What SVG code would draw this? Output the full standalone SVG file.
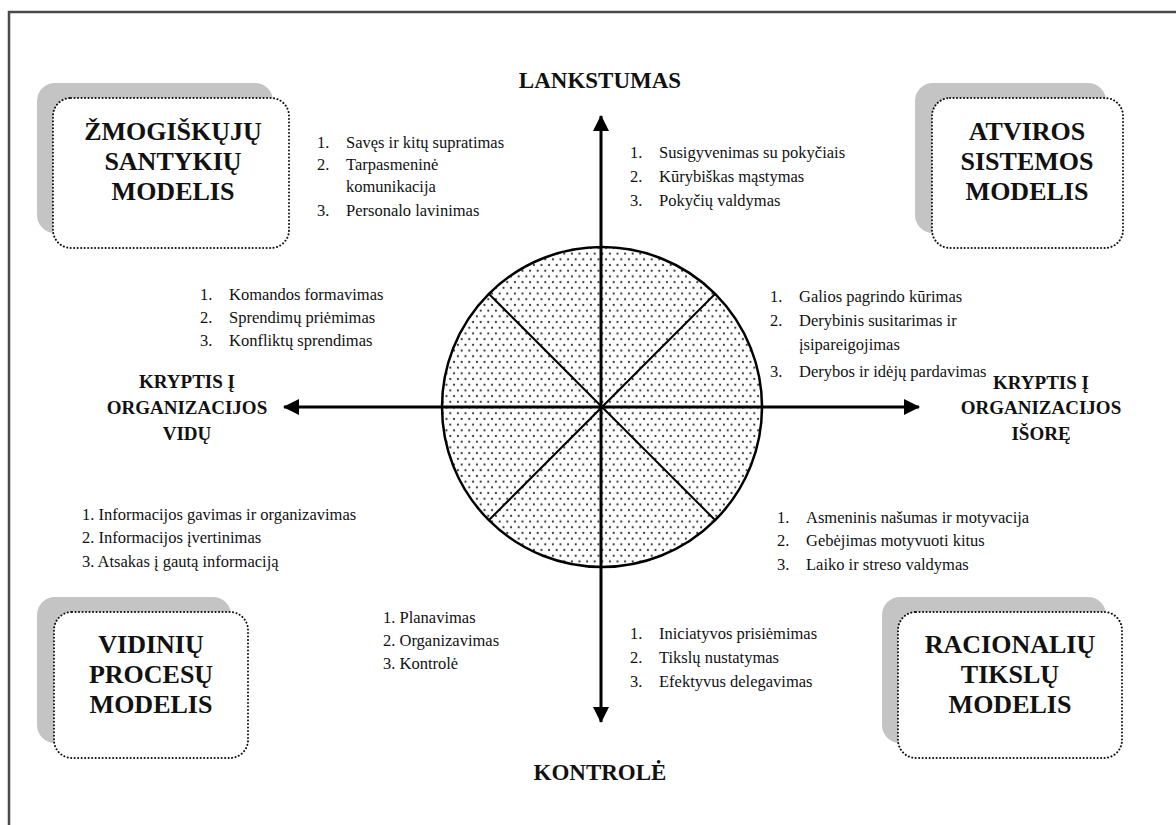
<svg xmlns="http://www.w3.org/2000/svg" width="1176" height="825" viewBox="0 0 1176 825">
  <defs>
    <style>
      .frame { fill: none; stroke: #4a4a4a; stroke-width: 2.5; }
      .shadow { fill: #c4c4c4; }
      .card { fill: #fff; stroke: #111; stroke-width: 2; stroke-dasharray: 0.1 3.4; stroke-linecap: round; }
      text { font-family: "Liberation Serif", Tinos, "DejaVu Serif", serif; fill: #111; }
      .title { font-weight: bold; font-size: 26px; text-anchor: middle; }
      .axis-label { font-weight: bold; font-size: 19px; text-anchor: middle; }
      .axis-label.main { font-size: 23px; }
      .item text { font-size: 16.5px; }
      .axis { stroke: #000; stroke-width: 3; fill: none; }
      .spoke { stroke: #000; stroke-width: 2; fill: none; }
    </style>
    <pattern id="dots" width="7.6" height="11.4" patternUnits="userSpaceOnUse">
      <circle cx="1.9" cy="2.85" r="1.1" fill="#333"/>
      <circle cx="5.7" cy="8.55" r="1.1" fill="#333"/>
    </pattern>
    <marker id="head" viewBox="0 0 16 16" refX="15" refY="8" markerWidth="16" markerHeight="16" markerUnits="userSpaceOnUse" orient="auto">
      <path d="M0,0 L16,8 L0,16 Z" fill="#000"/>
    </marker>
  </defs>

  <rect width="1176" height="825" fill="#fff"/>
  <path class="frame" d="M9,830 V12 H1180"/>

  <!-- central wheel -->
  <g id="wheel">
    <circle cx="602" cy="407" r="160" fill="url(#dots)" stroke="#000" stroke-width="2.5"/>
    <line class="spoke" x1="489" y1="294" x2="715" y2="520"/>
    <line class="spoke" x1="715" y1="294" x2="489" y2="520"/>
  </g>

  <!-- axes -->
  <g id="connectors">
    <line class="axis" x1="601" y1="407" x2="601" y2="116" marker-end="url(#head)"/>
    <line class="axis" x1="601" y1="407" x2="601" y2="722" marker-end="url(#head)"/>
    <line class="axis" x1="601" y1="407" x2="919" y2="407" marker-end="url(#head)"/>
    <line class="axis" x1="601" y1="407" x2="284" y2="407" marker-end="url(#head)"/>
  </g>

  <!-- axis labels -->
  <g id="label-flex"><text class="axis-label main" x="600" y="88">LANKSTUMAS</text></g>
  <g id="label-control"><text class="axis-label main" x="600" y="780">KONTROLĖ</text></g>
  <g id="label-inward">
    <text class="axis-label" x="187" y="388">KRYPTIS Į</text>
    <text class="axis-label" x="187" y="414">ORGANIZACIJOS</text>
    <text class="axis-label" x="187" y="440">VIDŲ</text>
  </g>
  <g id="label-outward">
    <text class="axis-label" x="1041" y="389">KRYPTIS Į</text>
    <text class="axis-label" x="1041" y="414">ORGANIZACIJOS</text>
    <text class="axis-label" x="1041" y="440">IŠORĘ</text>
  </g>

  <!-- model cards -->
  <g id="model-human-relations">
    <rect class="shadow" x="37" y="83" width="236" height="150" rx="18"/>
    <rect class="card" x="53" y="98" width="236" height="150" rx="18"/>
    <text class="title" x="173" y="140">ŽMOGIŠKŲJŲ</text>
    <text class="title" x="173" y="170">SANTYKIŲ</text>
    <text class="title" x="173" y="200">MODELIS</text>
  </g>
  <g id="model-open-system">
    <rect class="shadow" x="915" y="83" width="191" height="150" rx="18"/>
    <rect class="card" x="932" y="98" width="191" height="150" rx="18"/>
    <text class="title" x="1027" y="140">ATVIROS</text>
    <text class="title" x="1027" y="170">SISTEMOS</text>
    <text class="title" x="1027" y="200">MODELIS</text>
  </g>
  <g id="model-internal-process">
    <rect class="shadow" x="37" y="597" width="194" height="146" rx="18"/>
    <rect class="card" x="54" y="612" width="194" height="146" rx="18"/>
    <text class="title" x="151" y="653">VIDINIŲ</text>
    <text class="title" x="151" y="683">PROCESŲ</text>
    <text class="title" x="151" y="713">MODELIS</text>
  </g>
  <g id="model-rational-goal">
    <rect class="shadow" x="882" y="597" width="224" height="146" rx="18"/>
    <rect class="card" x="898" y="612" width="224" height="146" rx="18"/>
    <text class="title" x="1010" y="653">RACIONALIŲ</text>
    <text class="title" x="1010" y="683">TIKSLŲ</text>
    <text class="title" x="1010" y="713">MODELIS</text>
  </g>

  <!-- competence lists -->
  <g id="list-human-relations" class="item">
    <text x="317" y="148">1.<tspan x="346">Savęs ir kitų supratimas</tspan></text>
    <text x="317" y="170">2.<tspan x="346">Tarpasmeninė</tspan></text>
    <text x="346" y="192">komunikacija</text>
    <text x="317" y="216">3.<tspan x="346">Personalo lavinimas</tspan></text>
  </g>
  <g id="list-open-system-a" class="item">
    <text x="630" y="158">1.<tspan x="659">Susigyvenimas su pokyčiais</tspan></text>
    <text x="630" y="182">2.<tspan x="659">Kūrybiškas mąstymas</tspan></text>
    <text x="630" y="206">3.<tspan x="659">Pokyčių valdymas</tspan></text>
  </g>
  <g id="list-human-relations-b" class="item">
    <text x="200" y="300">1.<tspan x="229">Komandos formavimas</tspan></text>
    <text x="200" y="323">2.<tspan x="229">Sprendimų priėmimas</tspan></text>
    <text x="200" y="346">3.<tspan x="229">Konfliktų sprendimas</tspan></text>
  </g>
  <g id="list-open-system-b" class="item">
    <text x="770" y="302">1.<tspan x="799">Galios pagrindo kūrimas</tspan></text>
    <text x="770" y="326">2.<tspan x="799">Derybinis susitarimas ir</tspan></text>
    <text x="799" y="350">įsipareigojimas</text>
    <text x="770" y="377">3.<tspan x="799">Derybos ir idėjų pardavimas</tspan></text>
  </g>
  <g id="list-internal-process-a" class="item">
    <text x="82" y="520">1. Informacijos gavimas ir organizavimas</text>
    <text x="82" y="543">2. Informacijos įvertinimas</text>
    <text x="82" y="567">3. Atsakas į gautą informaciją</text>
  </g>
  <g id="list-rational-goal-a" class="item">
    <text x="777" y="523">1.<tspan x="806">Asmeninis našumas ir motyvacija</tspan></text>
    <text x="777" y="546">2.<tspan x="806">Gebėjimas motyvuoti kitus</tspan></text>
    <text x="777" y="570">3.<tspan x="806">Laiko ir streso valdymas</tspan></text>
  </g>
  <g id="list-internal-process-b" class="item">
    <text x="383" y="623">1. Planavimas</text>
    <text x="383" y="646">2. Organizavimas</text>
    <text x="383" y="669">3. Kontrolė</text>
  </g>
  <g id="list-rational-goal-b" class="item">
    <text x="630" y="639">1.<tspan x="659">Iniciatyvos prisiėmimas</tspan></text>
    <text x="630" y="663">2.<tspan x="659">Tikslų nustatymas</tspan></text>
    <text x="630" y="687">3.<tspan x="659">Efektyvus delegavimas</tspan></text>
  </g>
</svg>
